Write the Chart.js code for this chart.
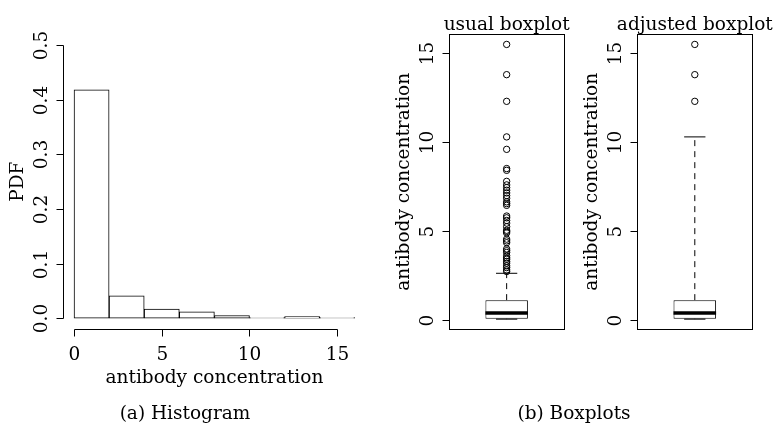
<!DOCTYPE html>
<html>
<head>
<meta charset="utf-8">
<script src="https://cdn.jsdelivr.net/npm/chart.js@4.4.1/dist/chart.umd.min.js"></script>
<style>
  body { margin: 0; background: #fff; }
  #wrap { position: relative; width: 778px; height: 426px; overflow: hidden; }
  canvas { position: absolute; left: 0; top: 0; }
  .cap { position: absolute; font: 18.5px 'DejaVu Serif', serif; color: #000; white-space: nowrap; transform: translateX(-50%); }
</style>
</head>
<body>
<div id="wrap">
  <canvas id="hist" width="778" height="426"></canvas>
  <canvas id="usual" width="778" height="426"></canvas>
  <canvas id="adjusted" width="778" height="426"></canvas>
  <div class="cap" style="left:185px; top:402px">(a) Histogram</div>
  <div class="cap" style="left:574px; top:402px">(b) Boxplots</div>
</div>
<script>
// histogram: bin midpoints (bins of width 2) and density
const histMids = [1, 3, 5, 7, 9, 11, 13, 15];
const histDensity = [0.418, 0.041, 0.0166, 0.0117, 0.005, 0.0012, 0.003, 0.0012];
const histXTicks = [0, 5, 10, 15];
const histYTicks = [0, 0.1, 0.2, 0.3, 0.4, 0.5];

// boxplots: [lower whisker, q1, median, q3, upper whisker]
const boxYTicks = [0, 5, 10, 15];
const usualStats = [0.05, 0.07, 0.4, 1.12, 2.63];
const usualOutliers = [2.73, 2.82, 2.95, 3.05, 3.2, 3.3, 3.42, 3.5, 3.62, 3.8, 3.9, 4.0,
  4.35, 4.45, 4.55, 4.9, 4.98, 5.05, 5.25, 5.45, 5.6, 5.75, 5.85, 6.45, 6.55, 6.65,
  6.85, 7.0, 7.15, 7.3, 7.45, 7.6, 7.8, 8.42, 8.52, 9.6, 10.3, 12.3, 13.8, 15.5];
const adjustedStats = [0.05, 0.07, 0.4, 1.12, 10.3];
const adjustedOutliers = [12.3, 13.8, 15.5];

const FONT = "18.5px 'DejaVu Serif', serif";
const W = 778, H = 426;

// R style axes, drawn from the chart's own scales
const rAxes = {
  id: 'rAxes',
  afterDraw(chart, args, o) {
    const { ctx, chartArea: a, scales: { x, y } } = chart;
    ctx.save();
    ctx.strokeStyle = '#000';
    ctx.fillStyle = '#000';
    ctx.lineWidth = 1;
    ctx.font = FONT;
    if (o.box) {
      ctx.strokeRect(Math.round(a.left) + 0.5, Math.round(a.top) + 0.5,
        Math.round(a.right - a.left), Math.round(a.bottom - a.top));
    }
    if (o.xTicks) {
      const yy = Math.round(a.bottom) + 0.5;
      const px = o.xTicks.map(v => Math.round(x.getPixelForValue(v)) + 0.5);
      ctx.beginPath();
      ctx.moveTo(px[0], yy); ctx.lineTo(px[px.length - 1], yy);
      px.forEach(p => { ctx.moveTo(p, yy); ctx.lineTo(p, yy + 7); });
      ctx.stroke();
      ctx.textAlign = 'center';
      ctx.textBaseline = 'alphabetic';
      o.xTicks.forEach((v, i) => ctx.fillText(String(v), px[i], a.bottom + 31));
      if (o.xTitle) ctx.fillText(o.xTitle, (a.left + a.right) / 2, a.bottom + 53.5);
    }
    if (o.yTicks) {
      const xx = Math.round(a.left) + 0.5;
      const py = o.yTicks.map(v => Math.round(y.getPixelForValue(v)) + 0.5);
      ctx.beginPath();
      if (!o.box) { ctx.moveTo(xx, py[0]); ctx.lineTo(xx, py[py.length - 1]); }
      py.forEach(p => { ctx.moveTo(xx, p); ctx.lineTo(xx - 7, p); });
      ctx.stroke();
      ctx.textAlign = 'center';
      ctx.textBaseline = 'middle';
      o.yTicks.forEach((v, i) => {
        ctx.save();
        ctx.translate(a.left - 21, py[i]);
        ctx.rotate(-Math.PI / 2);
        ctx.fillText(v.toFixed(o.yDigits || 0), 0, 0);
        ctx.restore();
      });
      if (o.yTitle) {
        ctx.save();
        ctx.translate(a.left - 45, (a.top + a.bottom) / 2);
        ctx.rotate(-Math.PI / 2);
        ctx.fillText(o.yTitle, 0, 0);
        ctx.restore();
      }
    }
    if (o.title) {
      ctx.textAlign = 'center';
      ctx.textBaseline = 'alphabetic';
      ctx.fillText(o.title, (a.left + a.right) / 2, a.top - 4);
    }
    ctx.restore();
  }
};

new Chart(document.getElementById('hist'), {
  type: 'bar',
  plugins: [rAxes],
  data: {
    datasets: [{
      data: histMids.map((m, i) => ({ x: m, y: histDensity[i] })),
      backgroundColor: '#fff',
      borderColor: '#000',
      borderWidth: 1,
      borderSkipped: false,
      barPercentage: 1,
      categoryPercentage: 1
    }]
  },
  options: {
    responsive: false,
    animation: false,
    devicePixelRatio: 1,
    layout: { padding: { left: 62.8, right: W - 366, top: 34.1, bottom: H - 329.2 } },
    scales: {
      x: { type: 'linear', offset: false, min: -0.64, max: 16.64, display: false,
           afterBuildTicks: s => { s.ticks = histXTicks.map(v => ({ value: v })); } },
      y: { min: -0.02, max: 0.52, display: false }
    },
    plugins: {
      legend: { display: false },
      tooltip: { enabled: false },
      rAxes: { xTicks: histXTicks, yTicks: histYTicks, yDigits: 1,
               xTitle: 'antibody concentration', yTitle: 'PDF' }
    }
  }
});

function boxChart(id, stats, outliers, title, left, right) {
  const [lo, q1, med, q3, hi] = stats;
  const xMin = 0.46, xMax = 1.54, boxW = 0.4;
  const hw = boxW / 2, cw = boxW / 4;
  const seg = (x0, y0, x1, y1, extra) => Object.assign({
    type: 'line',
    data: [{ x: x0, y: y0 }, { x: x1, y: y1 }],
    borderColor: '#000', borderWidth: 1, pointRadius: 0
  }, extra);
  new Chart(document.getElementById(id), {
    type: 'bar',
    plugins: [rAxes],
    data: {
      datasets: [
        seg(1 - hw, med, 1 + hw, med, { borderWidth: 3.5, borderCapStyle: 'butt' }),
        seg(1, q3, 1, hi, { borderDash: [6, 5] }),
        seg(1, lo, 1, q1, { borderDash: [6, 5] }),
        seg(1 - cw, hi, 1 + cw, hi),
        seg(1 - cw, lo, 1 + cw, lo),
        {
          type: 'scatter',
          data: outliers.map(v => ({ x: 1, y: v })),
          pointStyle: 'circle',
          pointRadius: 3.2,
          borderColor: '#000',
          backgroundColor: 'rgba(0,0,0,0)',
          borderWidth: 1
        },
        {
          type: 'bar',
          data: [{ x: 1, y: [q1, q3] }],
          backgroundColor: '#fff',
          borderColor: '#000',
          borderWidth: 1,
          borderSkipped: false,
          categoryPercentage: 1,
          barPercentage: boxW / (xMax - xMin)
        }
      ]
    },
    options: {
      responsive: false,
      animation: false,
      devicePixelRatio: 1,
      layout: { padding: { left: left, right: W - right, top: 34.3, bottom: H - 329.3 } },
      scales: {
        x: { type: 'linear', offset: false, min: xMin, max: xMax, display: false,
             afterBuildTicks: s => { s.ticks = []; } },
        y: { type: 'linear', min: -0.52, max: 16.07, display: false }
      },
      plugins: {
        legend: { display: false },
        tooltip: { enabled: false },
        rAxes: { box: true, yTicks: boxYTicks, yTitle: 'antibody concentration', title: title }
      }
    }
  });
}

boxChart('usual', usualStats, usualOutliers, 'usual boxplot', 449.3, 564);
boxChart('adjusted', adjustedStats, adjustedOutliers, 'adjusted boxplot', 637.3, 752.3);
</script>
</body>
</html>
